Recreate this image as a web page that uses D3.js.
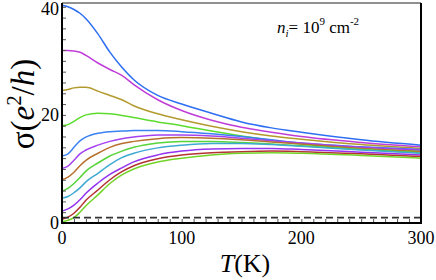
<!DOCTYPE html>
<html>
<head>
<meta charset="utf-8">
<script src="https://cdn.jsdelivr.net/npm/d3@7"></script>
<style>
  body { margin: 0; background: #fff; }
  svg text { font-family: "Liberation Serif", "DejaVu Serif", serif; }
</style>
</head>
<body>
<div id="chart"></div>
<script>
var width = 436;
var height = 280;

// temperature grid (K)
var temps = [0, 5, 10, 15, 20, 30, 40, 50, 60, 80, 100, 125, 150, 175, 200, 250, 300];

// conductivity curves, sigma in units of e^2/h, top to bottom at T = 0
var s1  = [40.3, 40.0, 39.5, 38.8, 37.8, 35.0, 31.6, 28.8, 26.5, 23.6, 22.0, 20.3, 18.7, 17.6, 16.8, 15.4, 14.4];
var s2  = [31.9, 31.9, 31.8, 31.6, 31.0, 29.6, 28.4, 27.3, 25.6, 22.8, 20.8, 19.0, 17.7, 16.8, 16.0, 14.9, 14.1];
var s3  = [24.5, 24.7, 25.0, 25.1, 25.1, 24.4, 23.6, 22.8, 21.7, 20.2, 19.1, 17.9, 16.9, 16.1, 15.5, 14.5, 13.8];
var s4  = [18.0, 18.2, 18.8, 19.5, 20.0, 20.3, 20.2, 19.9, 19.5, 18.7, 18.0, 17.0, 16.1, 15.3, 14.6, 13.8, 13.3];
var s5  = [12.4, 12.8, 14.0, 15.2, 15.9, 16.6, 16.9, 17.0, 17.1, 17.1, 16.9, 16.5, 16.0, 15.4, 14.8, 14.1, 13.6];
var s6  = [10.1, 10.5, 11.6, 12.8, 13.5, 14.4, 15.1, 15.6, 15.9, 16.3, 16.3, 16.1, 15.7, 15.2, 14.8, 14.0, 13.5];
var s7  = [8.0, 8.5, 9.4, 10.6, 11.6, 12.9, 14.0, 14.7, 15.1, 15.6, 15.8, 15.7, 15.4, 15.0, 14.6, 13.8, 13.2];
var s8  = [5.9, 6.4, 7.3, 8.4, 9.6, 11.1, 12.4, 13.3, 14.0, 14.8, 15.1, 15.1, 14.9, 14.6, 14.3, 13.6, 13.0];
var s9  = [4.6, 4.9, 5.6, 6.5, 7.6, 9.2, 10.8, 12.1, 12.9, 13.9, 14.4, 14.7, 14.7, 14.5, 14.2, 13.5, 12.9];
var s10 = [2.2, 2.6, 3.3, 4.3, 5.5, 7.4, 9.0, 10.2, 11.3, 12.6, 13.3, 13.7, 13.8, 13.8, 13.6, 13.1, 12.6];
var s11 = [0.7, 1.1, 1.8, 2.9, 4.2, 6.1, 8.0, 9.5, 10.6, 11.9, 12.6, 13.0, 13.2, 13.3, 13.2, 12.8, 12.3];
var s12 = [0.25, 0.5, 1.0, 2.0, 3.2, 5.2, 7.3, 8.9, 10.0, 11.3, 12.0, 12.6, 12.9, 13.0, 12.9, 12.5, 12.0];

var series = [s1, s2, s3, s4, s5, s6, s7, s8, s9, s10, s11, s12];
var colors = ["#2d6ef2", "#c03ed8", "#b39a2e", "#5cdc2c", "#3a82f2", "#a442f0",
              "#b8702e", "#56d43a", "#3eaad2", "#9434f0", "#b43232", "#74d428"];

var minLevel = 1; // dashed reference line
var xTicks = [0, 100, 200, 300];
var yTicks = [0, 20, 40];

var margin = { left: 62, right: 15, top: 3, bottom: 57 };

var svg = d3.select("#chart").append("svg")
  .attr("width", width)
  .attr("height", height);

var x = d3.scaleLinear().domain([0, 300]).range([margin.left, width - margin.right]);
var y = d3.scaleLinear().domain([0, 40.7]).range([height - margin.bottom, margin.top]);

// curves
var line = d3.line()
  .x(function(d) { return x(d[0]); })
  .y(function(d) { return y(d[1]); })
  .curve(d3.curveMonotoneX);

series.forEach(function(s, i) {
  svg.append("path")
    .datum(temps.map(function(t, j) { return [t, s[j]]; }))
    .attr("d", line)
    .attr("fill", "none")
    .attr("stroke", colors[i])
    .attr("stroke-width", 1.5);
});

// dashed line
svg.append("line")
  .attr("x1", x(0)).attr("x2", x(300))
  .attr("y1", y(minLevel)).attr("y2", y(minLevel))
  .attr("stroke", "#333")
  .attr("stroke-width", 1.6)
  .attr("stroke-dasharray", "7,4");

// axes, ticks pointing inward
var xAxis = d3.axisTop(x).tickValues(d3.range(0, 301, 10)).tickFormat("")
  .tickSize(4);
svg.append("g")
  .attr("transform", "translate(0," + y(0) + ")")
  .call(xAxis)
  .call(function(g) {
    g.select(".domain").remove();
    g.selectAll(".tick line").attr("stroke", "#555").attr("stroke-width", 1);
  });

var yAxis = d3.axisRight(y).tickValues(d3.range(0, 41, 2)).tickFormat("")
  .tickSize(4);
svg.append("g")
  .attr("transform", "translate(" + x(0) + ",0)")
  .call(yAxis)
  .call(function(g) {
    g.select(".domain").remove();
    g.selectAll(".tick line").attr("stroke", "#555").attr("stroke-width", 1);
  });

// frame
svg.append("line").attr("x1", x(0)).attr("x2", x(300)).attr("y1", margin.top).attr("y2", margin.top)
  .attr("stroke", "#222").attr("stroke-width", 1);
svg.append("line").attr("x1", x(300)).attr("x2", x(300)).attr("y1", margin.top).attr("y2", y(0))
  .attr("stroke", "#000").attr("stroke-width", 2);
svg.append("line").attr("x1", x(0)).attr("x2", x(0)).attr("y1", margin.top).attr("y2", y(0) + 1)
  .attr("stroke", "#000").attr("stroke-width", 2);
svg.append("line").attr("x1", x(0) - 1).attr("x2", x(300) + 1).attr("y1", y(0)).attr("y2", y(0))
  .attr("stroke", "#000").attr("stroke-width", 2);

// tick labels
svg.selectAll(".xlab").data(xTicks).enter().append("text")
  .attr("x", function(d) { return x(d); })
  .attr("y", 244)
  .attr("text-anchor", "middle")
  .attr("font-size", 18)
  .text(function(d) { return d; });

svg.selectAll(".ylab").data(yTicks).enter().append("text")
  .attr("x", 59)
  .attr("y", function(d) { return Math.max(y(d) + 6, 15); })
  .attr("text-anchor", "end")
  .attr("font-size", 18)
  .text(function(d) { return d; });

// axis titles
var yt = svg.append("text")
  .attr("transform", "translate(34,104) rotate(-90)")
  .attr("text-anchor", "middle")
  .attr("font-size", 33);
yt.append("tspan").text("σ(");
yt.append("tspan").attr("font-style", "italic").text("e");
yt.append("tspan").attr("font-size", 21).attr("dy", -13).text("2");
yt.append("tspan").attr("dy", 13).text("/");
yt.append("tspan").attr("font-style", "italic").text("h");
yt.append("tspan").text(")");

var xt = svg.append("text")
  .attr("x", 245).attr("y", 272)
  .attr("text-anchor", "middle")
  .attr("font-size", 26);
xt.append("tspan").attr("font-style", "italic").text("T");
xt.append("tspan").text("(K)");

// annotation
var ann = svg.append("text")
  .attr("x", 277).attr("y", 33)
  .attr("font-size", 17);
ann.append("tspan").attr("font-style", "italic").text("n");
ann.append("tspan").attr("font-style", "italic").attr("font-size", 11).attr("dy", 4).text("i");
ann.append("tspan").attr("dy", -4).text("= 10");
ann.append("tspan").attr("font-size", 11).attr("dy", -8).text("9");
ann.append("tspan").attr("dy", 8).text(" cm");
ann.append("tspan").attr("font-size", 11).attr("dy", -8).text("-2");
</script>
</body>
</html>
